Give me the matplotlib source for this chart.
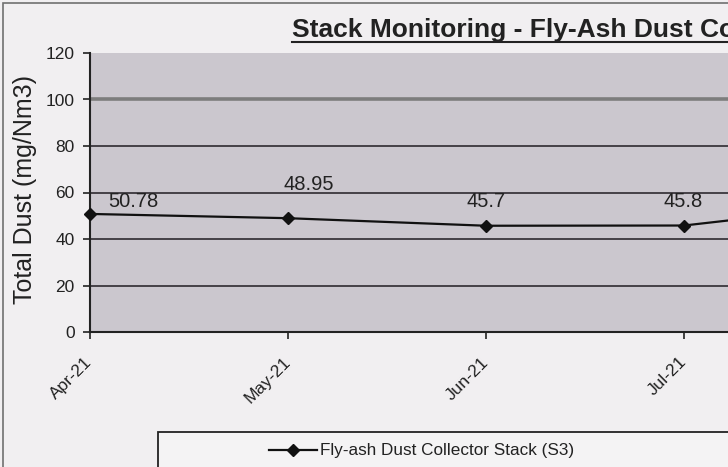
import matplotlib.pyplot as plt
from matplotlib.patches import Rectangle
from matplotlib.lines import Line2D

plt.rcParams['font.family'] = ['Liberation Sans', 'DejaVu Sans']

# data
months = ['Apr-21', 'May-21', 'Jun-21', 'Jul-21', 'Aug-21']
dust = [50.78, 48.95, 45.7, 45.8, 55.5]
shown_labels = ['50.78', '48.95', '45.7', '45.8', '']
y_ticks = [0, 20, 40, 60, 80, 100, 120]

W, H = 728, 467


def fx(px):
    return px / W


def fy(py):
    return 1 - py / H


fig = plt.figure(figsize=(W / 100, H / 100), dpi=100, facecolor='#f1eff1')

# outer chart border (chart is cropped on the right and bottom)
fig.add_artist(Rectangle((fx(3), fy(600)), 2.0, (597) / H, transform=fig.transFigure,
                         fill=False, edgecolor='#707070', lw=1.2))

ax = fig.add_axes([fx(90), fy(332), (882 - 90) / W, (332 - 53) / H])
ax.set_facecolor('#cbc7ce')

x = list(range(len(months)))
ax.set_xlim(0, len(months) - 1)
ax.set_ylim(0, 120)

for v in y_ticks[1:-1]:
    if v == 100:
        ax.axhline(v, color='#7d7d7d', lw=2.6, zorder=1)
    else:
        ax.axhline(v, color='#2e2a30', lw=1.2, zorder=1)

ax.plot(x, dust, color='#111111', lw=1.6, marker='D', markersize=6.5,
        markerfacecolor='#111111', markeredgecolor='#111111', clip_on=False, zorder=3,
        label='Fly-ash Dust Collector Stack (S3)')

# data labels
offsets = [(18, 12), (-4, 34), (-19, 24), (-20, 24), (0, 24)]
for xi, yi, lab, off in zip(x, dust, shown_labels, offsets):
    if lab:
        ax.annotate(lab, (xi, yi), xytext=off, textcoords='offset pixels',
                    ha='left', va='center', fontsize=14.5, color='#222222')

for s in ['top', 'right']:
    ax.spines[s].set_visible(False)
for s in ['left', 'bottom']:
    ax.spines[s].set_color('#222222')
    ax.spines[s].set_linewidth(1.5)

ax.set_yticks(y_ticks)
ax.set_xticks(x)
ax.set_xticklabels(months[:-1] + [''], rotation=45, ha='right', va='center',
                   rotation_mode='anchor')
ax.tick_params(axis='y', length=5, width=1.2, pad=6, labelsize=12.5, colors='#222222')
ax.tick_params(axis='x', length=5, width=1.2, pad=15, labelsize=12.5, colors='#222222')

ax.set_ylabel('Total Dust (mg/Nm3)', fontsize=18, color='#222222')
ax.yaxis.set_label_coords((37 - 90) / (882 - 90), (332 - 190) / (332 - 53))

# title (cropped at the right, as in the source)
fig.text(fx(292), fy(30), 'Stack Monitoring - Fly-Ash Dust Collector Stack',
         ha='left', va='center', fontsize=19, fontweight='bold', color='#222222')
fig.add_artist(Line2D([fx(292), 1.2], [fy(42), fy(42)], transform=fig.transFigure,
                      color='#222222', lw=1.5))

# legend box
fig.add_artist(Rectangle((fx(158), fy(520)), 2.0, (520 - 432) / H, transform=fig.transFigure,
                         facecolor='#f4f3f4', edgecolor='#222222', lw=1.3))
fig.legend(loc='center left', bbox_to_anchor=(fx(254), fy(451)), frameon=False,
           fontsize=12.3, handlelength=2.8, handletextpad=0.15, labelcolor='#222222')

fig.savefig('out.png', dpi=100, facecolor=fig.get_facecolor())
